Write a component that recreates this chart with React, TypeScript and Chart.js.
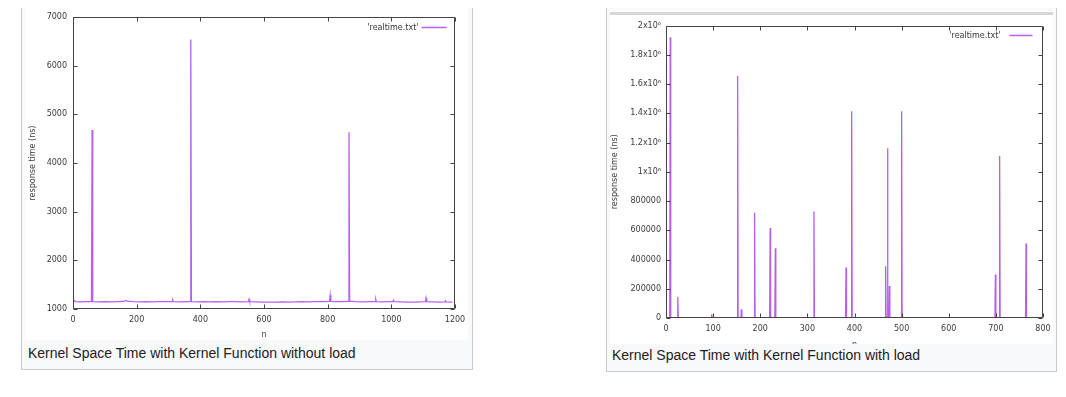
import React, { useEffect, useRef } from 'react';
import { Chart, registerables } from 'chart.js';

Chart.register(...registerables);

// ---------- data: left chart (without load) ----------
const leftN = [
  0, 5, 7, 20, 40, 58, 60, 62, 80, 100, 120, 140, 160, 165, 170, 190, 210, 230, 250, 270, 290,
  311, 313, 315, 335, 355, 368, 370, 372, 390, 410, 430, 450, 470, 490, 510, 530, 551, 553, 555,
  575, 600, 620, 640, 660, 680, 700, 720, 740, 760, 780, 806, 808, 810, 830, 850, 865, 867, 869,
  890, 910, 930, 949, 951, 953, 970, 990, 1005, 1007, 1009, 1030, 1050, 1070, 1090, 1107, 1109,
  1111, 1130, 1150, 1168, 1170, 1172, 1192,
];
const leftResponse = [
  1150, 1175, 1150, 1145, 1150, 1150, 4680, 1150, 1145, 1150, 1148, 1152, 1155, 1175, 1160, 1150,
  1145, 1150, 1148, 1152, 1150, 1150, 1185, 1150, 1148, 1150, 1150, 6540, 1150, 1148, 1150, 1145,
  1150, 1148, 1150, 1152, 1148, 1150, 1200, 1150, 1145, 1140, 1142, 1140, 1145, 1140, 1145, 1150,
  1148, 1152, 1150, 1155, 1285, 1155, 1150, 1150, 1155, 4630, 1160, 1150, 1148, 1150, 1150, 1200,
  1150, 1145, 1150, 1150, 1180, 1150, 1145, 1140, 1142, 1145, 1150, 1225, 1150, 1145, 1140, 1145,
  1170, 1145, 1140,
];
const leftXTicks = [0, 200, 400, 600, 800, 1000, 1200];
const leftYTicks = [1000, 2000, 3000, 4000, 5000, 6000, 7000];

// ---------- data: right chart (with load) ----------
const rightN = [
  0, 8, 9, 10, 24, 25, 26, 96, 97, 98, 151, 152, 153, 159, 160, 161, 187, 188, 189, 220, 221, 222,
  231, 232, 233, 313, 314, 315, 381, 382, 383, 393, 394, 395, 465, 466, 467, 469, 470, 471, 473,
  474, 475, 499, 500, 501, 698, 699, 700, 707, 708, 709, 763, 764, 765, 770,
];
const rightResponse = [
  3000, 3000, 1920000, 3000, 3000, 144000, 3000, 3000, 25000, 3000, 3000, 1655000, 3000, 3000,
  60000, 3000, 3000, 719000, 3000, 3000, 616000, 3000, 3000, 477000, 3000, 3000, 729000, 3000,
  3000, 345000, 3000, 3000, 1414000, 3000, 3000, 354000, 3000, 3000, 1160000, 3000, 3000, 219000,
  3000, 3000, 1414000, 3000, 3000, 297000, 3000, 3000, 1107000, 3000, 3000, 510000, 3000, 3000,
];
const rightXTicks = [0, 100, 200, 300, 400, 500, 600, 700, 800];
const rightYTicks = [0, 200000, 400000, 600000, 800000, 1000000, 1200000, 1400000, 1600000, 1800000, 2000000];
const rightYTickLabels = [
  '0', '200000', '400000', '600000', '800000', '1x10⁶', '1.2x10⁶', '1.4x10⁶', '1.6x10⁶', '1.8x10⁶', '2x10⁶',
];

const seriesLabel = "'realtime.txt'";
const xTitle = 'n';
const yTitle = 'response time (ns)';
const leftCaption = 'Kernel Space Time with Kernel Function without load';
const rightCaption = 'Kernel Space Time with Kernel Function with load';

const LINE_COLOR = 'rgba(165, 55, 230, 0.8)';
const TEXT_COLOR = '#3a3a3a';
const FONT = '"DejaVu Sans", sans-serif';

const gnuFrame = {
  id: 'gnuFrame',
  afterDatasetsDraw(chart: any, _args: any, opts: any) {
    const { ctx, chartArea } = chart;
    const xs = chart.scales.x;
    const ys = chart.scales.y;
    const L = Math.round(chartArea.left) + 0.5;
    const R = Math.round(chartArea.right) - 0.5;
    const T = Math.round(chartArea.top) + 0.5;
    const B = Math.round(chartArea.bottom) - 0.5;
    ctx.save();
    ctx.strokeStyle = '#444';
    ctx.lineWidth = 1;
    ctx.beginPath();
    ctx.rect(L, T, R - L, B - T);
    for (const v of opts.xTicks) {
      const p = Math.round(xs.getPixelForValue(v)) + 0.5;
      ctx.moveTo(p, B);
      ctx.lineTo(p, B - 4);
      ctx.moveTo(p, T);
      ctx.lineTo(p, T + 4);
    }
    for (const v of opts.yTicks) {
      const p = Math.round(ys.getPixelForValue(v)) + 0.5;
      ctx.moveTo(L, p);
      ctx.lineTo(L + 4, p);
      ctx.moveTo(R, p);
      ctx.lineTo(R - 4, p);
    }
    ctx.stroke();
    // key
    const ds = chart.data.datasets[0];
    const lineEnd = R - opts.keyInset;
    const lineStart = lineEnd - opts.keyLen;
    const ky = T + opts.keyDy;
    ctx.strokeStyle = ds.borderColor;
    ctx.lineWidth = 1.5;
    ctx.beginPath();
    ctx.moveTo(lineStart, ky);
    ctx.lineTo(lineEnd, ky);
    ctx.stroke();
    ctx.fillStyle = '#333';
    ctx.font = `8px ${FONT}`;
    ctx.textAlign = 'right';
    ctx.textBaseline = 'middle';
    ctx.fillText(ds.label, lineStart - opts.keyGap, ky);
    ctx.restore();
  },
};

type PlotProps = {
  n: number[];
  values: number[];
  xTicks: number[];
  yTicks: number[];
  yLabels?: string[];
  width: number;
  height: number;
  padTop: number;
  padRight: number;
  yAxisWidth: number;
  xAxisHeight: number;
  yTitlePad: number;
  xTitlePad: number;
  xLabelPad: number;
  yLabelPad: number;
  keyInset: number;
  keyLen: number;
  keyDy: number;
  keyGap: number;
};

function GnuPlot(p: PlotProps) {
  const ref = useRef<HTMLCanvasElement>(null);
  useEffect(() => {
    const chart = new Chart(ref.current as HTMLCanvasElement, {
      type: 'line',
      data: {
        datasets: [
          {
            label: seriesLabel,
            data: p.n.map((x, i) => ({ x, y: p.values[i] })),
            borderColor: LINE_COLOR,
            borderWidth: 1.3,
            pointRadius: 0,
            tension: 0,
            fill: false,
          },
        ],
      },
      options: {
        animation: false,
        responsive: false,
        devicePixelRatio: 1,
        layout: { padding: { left: 0, top: p.padTop, right: p.padRight, bottom: 0 } },
        plugins: {
          legend: { display: false },
          tooltip: { enabled: false },
          gnuFrame: {
            xTicks: p.xTicks,
            yTicks: p.yTicks,
            keyInset: p.keyInset,
            keyLen: p.keyLen,
            keyDy: p.keyDy,
            keyGap: p.keyGap,
          },
        } as any,
        scales: {
          x: {
            type: 'linear',
            min: p.xTicks[0],
            max: p.xTicks[p.xTicks.length - 1],
            afterBuildTicks: (s: any) => {
              s.ticks = p.xTicks.map((v) => ({ value: v }));
            },
            afterFit: (s: any) => {
              s.height = p.xAxisHeight;
              s.paddingLeft = 0;
              s.paddingRight = 0;
            },
            ticks: {
              autoSkip: false,
              maxRotation: 0,
              padding: p.xLabelPad,
              color: TEXT_COLOR,
              font: { family: FONT, size: 8 },
              callback: (v: any) => String(v),
            },
            grid: { display: false, drawTicks: false },
            border: { display: false },
            title: {
              display: true,
              text: xTitle,
              color: TEXT_COLOR,
              font: { family: FONT, size: 8 },
              padding: { top: 0, bottom: p.xTitlePad },
            },
          },
          y: {
            type: 'linear',
            min: p.yTicks[0],
            max: p.yTicks[p.yTicks.length - 1],
            afterBuildTicks: (s: any) => {
              s.ticks = p.yTicks.map((v) => ({ value: v }));
            },
            afterFit: (s: any) => {
              s.width = p.yAxisWidth;
              s.paddingTop = 0;
              s.paddingBottom = 0;
            },
            ticks: {
              autoSkip: false,
              padding: p.yLabelPad,
              color: TEXT_COLOR,
              font: { family: FONT, size: 8 },
              callback: (v: any) => {
                const i = p.yTicks.indexOf(Number(v));
                return p.yLabels && i >= 0 ? p.yLabels[i] : String(v);
              },
            },
            grid: { display: false, drawTicks: false },
            border: { display: false },
            title: {
              display: true,
              text: yTitle,
              color: TEXT_COLOR,
              font: { family: FONT, size: 8 },
              padding: { top: p.yTitlePad, bottom: 0 },
            },
          },
        },
      },
      plugins: [gnuFrame],
    });
    return () => chart.destroy();
  }, []);
  return (
    <canvas
      ref={ref}
      width={p.width}
      height={p.height}
      style={{ display: 'block', width: p.width, height: p.height }}
    />
  );
}

const cardStyle: React.CSSProperties = {
  position: 'absolute',
  boxSizing: 'border-box',
  border: '1px solid #c8ccd1',
  background: '#f8f9fa',
};

const captionStyle: React.CSSProperties = {
  position: 'absolute',
  fontFamily: '"Liberation Sans", Arial, sans-serif',
  fontSize: 14,
  lineHeight: '20px',
  color: '#202122',
  whiteSpace: 'nowrap',
};

export default function App() {
  return (
    <div style={{ position: 'relative', width: 1050, height: 381 }}>
      {/* left card: page coords minus 8px body margin */}
      <div style={{ ...cardStyle, left: 21 - 8, top: 3 - 8, width: 452, height: 367 }}>
        <div
          style={{
            position: 'absolute',
            left: 3,
            top: 3,
            width: 443,
            height: 333,
            background: '#fff',
            overflow: 'hidden',
          }}
        >
          <GnuPlot
            n={leftN}
            values={leftResponse}
            xTicks={leftXTicks}
            yTicks={leftYTicks}
            width={443}
            height={333}
            padTop={10}
            padRight={13}
            yAxisWidth={48}
            xAxisHeight={31}
            yTitlePad={3}
            xTitlePad={0}
            xLabelPad={6}
            yLabelPad={6}
            keyInset={8}
            keyLen={25}
            keyDy={10}
            keyGap={3}
          />
        </div>
        <div style={{ ...captionStyle, left: 6, top: 339 }}>{leftCaption}</div>
      </div>

      {/* right card */}
      <div style={{ ...cardStyle, left: 606 - 8, top: 7 - 8, width: 451, height: 365 }}>
        <div
          style={{
            position: 'absolute',
            left: 3,
            top: 3,
            width: 443,
            height: 333,
            background: '#fff',
            overflow: 'hidden',
          }}
        >
          <div style={{ position: 'absolute', left: 0, top: 1, width: 443, height: 3, background: '#d6d6d6' }} />
          <div style={{ position: 'absolute', left: 0, top: 4 }}>
            <GnuPlot
              n={rightN}
              values={rightResponse}
              xTicks={rightXTicks}
              yTicks={rightYTicks}
              yLabels={rightYTickLabels}
              width={443}
              height={337}
              padTop={10.5}
              padRight={10}
              yAxisWidth={56}
              xAxisHeight={34}
              yTitlePad={0}
              xTitlePad={2}
              xLabelPad={6}
              yLabelPad={5}
              keyInset={10}
              keyLen={23}
              keyDy={9}
              keyGap={9}
            />
          </div>
        </div>
        <div style={{ ...captionStyle, left: 5, top: 337 }}>{rightCaption}</div>
      </div>
    </div>
  );
}
